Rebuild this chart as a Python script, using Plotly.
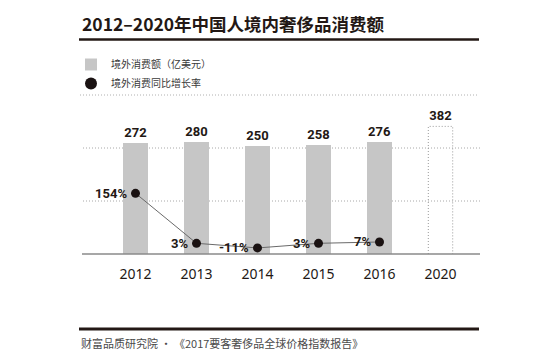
import plotly.graph_objects as go

# ---------------- data ----------------
years = ["2012", "2013", "2014", "2015", "2016", "2020"]
spend = [272, 280, 250, 258, 276, 382]            # 境外消费额（亿美元）
growth_years = ["2012", "2013", "2014", "2015", "2016"]
growth = [154, 3, -11, 3, 7]                        # 境外消费同比增长率 (%)
forecast_year = "2020"

title_text = "2012–2020年中国人境内奢侈品消费额"
legend_bar = "境外消费额（亿美元）"
legend_dot = "境外消费同比增长率"
source_text = "财富品质研究院 · 《2017要客奢侈品全球价格指数报告》"

# ---------------- layout helpers ----------------
# the page body has an 8px margin, so the figure is 16px smaller than the window
OFF = 8
W, H = 550 - 2 * OFF, 360 - 2 * OFF
def px_x(p):
    return (p - OFF) / W
def px_y(p):
    return 1 - (p - OFF) / H

CJK = "Noto Sans CJK SC, sans-serif"
NUM = "Roboto, Liberation Sans, sans-serif"
BAR_GRAY = "#c6c6c6"
INK = "#231815"

# plot area (reference pixels)
PLOT_L, PLOT_R = 82, 480
PLOT_T, PLOT_B = 100, 254
C0, STEP = 135.5, 61.0                 # first category centre, spacing
x_range = [(PLOT_L - C0) / STEP, (PLOT_R - C0) / STEP]

# truncated value axis for the bars
BAR_BASE = -474.5
bar_range = [BAR_BASE, 559.1]
# percent axis for the growth line
pct_range = [-29.3, 435.8]

xi = list(range(len(years)))
gx = [years.index(y) for y in growth_years]
fi = years.index(forecast_year)
BW = 0.4

bar_colors = [BAR_GRAY if y != forecast_year else "rgba(0,0,0,0)" for y in years]

fig = go.Figure()

fig.add_trace(go.Bar(
    x=xi, y=[v - BAR_BASE for v in spend], base=BAR_BASE,
    width=BW, marker=dict(color=bar_colors, line=dict(width=0)),
    text=[str(v) for v in spend], textposition="outside",
    textfont=dict(family=NUM, size=13, color=INK, weight="bold"),
    cliponaxis=False, name=legend_bar, showlegend=True,
    hoverinfo="skip", yaxis="y",
))

# dotted outline of the forecast bar
fv = spend[fi]
fig.add_trace(go.Scatter(
    x=[fi - BW / 2, fi - BW / 2, fi + BW / 2, fi + BW / 2],
    y=[BAR_BASE, fv, fv, BAR_BASE],
    mode="lines", line=dict(color="#9a9a9a", width=1, dash="1px,2px"),
    showlegend=False, hoverinfo="skip", yaxis="y",
))

# growth line
fig.add_trace(go.Scatter(
    x=gx, y=growth, mode="lines",
    line=dict(color="#6a6a6a", width=1),
    showlegend=False, hoverinfo="skip", yaxis="y2",
))
fig.add_trace(go.Scatter(
    x=gx, y=growth, mode="markers",
    marker=dict(color="#1a1212", size=9),
    name=legend_dot, showlegend=True, hoverinfo="skip", yaxis="y2",
    cliponaxis=False,
))

annotations = []
for i, v in zip(gx, growth):
    annotations.append(dict(
        x=i, y=v, xref="x", yref="y2", text=f"{v}%", showarrow=False,
        xanchor="right", yanchor="middle", xshift=-7,
        font=dict(family=NUM, size=13, color=INK, weight="bold"),
    ))

annotations.append(dict(
    x=px_x(80), y=px_y(24), xref="paper", yref="paper", text=f"<b>{title_text}</b>",
    showarrow=False, xanchor="left", yanchor="middle",
    font=dict(family=CJK, size=17.5, color=INK),
))
annotations.append(dict(
    x=px_x(79), y=px_y(343), xref="paper", yref="paper", text=source_text,
    showarrow=False, xanchor="left", yanchor="middle",
    font=dict(family=CJK, size=11, color="#4a4a4a"),
))

def hline(y, x0, x1, color, width, dash="solid", layer="below"):
    return dict(type="line", xref="paper", yref="paper",
                x0=px_x(x0), x1=px_x(x1), y0=px_y(y), y1=px_y(y),
                line=dict(color=color, width=width, dash=dash), layer=layer)

shapes = [
    hline(39.5, 79, 479, INK, 2.5),
    hline(95, 80, 479, "#b0b0b0", 1, "1px,2px"),
    hline(148, 83, 480, "#a8a8a8", 1, "1px,2px"),
    hline(201, 83, 480, "#a8a8a8", 1, "1px,2px"),
    hline(254, 82, 480, "#8a8a8a", 1.6, layer="above"),
    hline(329, 79, 479, INK, 3),
]

fig.update_layout(
    width=W, height=H, autosize=False,
    margin=dict(l=0, r=0, t=0, b=0),
    paper_bgcolor="white", plot_bgcolor="white",
    showlegend=True,
    legend=dict(x=px_x(71), y=px_y(50), xanchor="left", yanchor="top",
                font=dict(family=CJK, size=10, color="#3a3a3a"),
                itemsizing="constant", tracegroupgap=0,
                bgcolor="rgba(0,0,0,0)", traceorder="normal"),
    xaxis=dict(domain=[px_x(PLOT_L), px_x(PLOT_R)], range=x_range,
               tickmode="array", tickvals=xi, ticktext=years,
               showgrid=False, zeroline=False, showline=False, ticks="",
               tickfont=dict(family="Noto Sans, sans-serif", size=14, color=INK),
               ticklabelstandoff=10, fixedrange=True),
    yaxis=dict(domain=[px_y(PLOT_B), px_y(PLOT_T)], range=bar_range,
               visible=False, fixedrange=True),
    yaxis2=dict(domain=[px_y(PLOT_B), px_y(PLOT_T)], range=pct_range,
                overlaying="y", visible=False, fixedrange=True),
    annotations=annotations,
    shapes=shapes,
    bargap=0,
)

fig.write_html("out.html")
